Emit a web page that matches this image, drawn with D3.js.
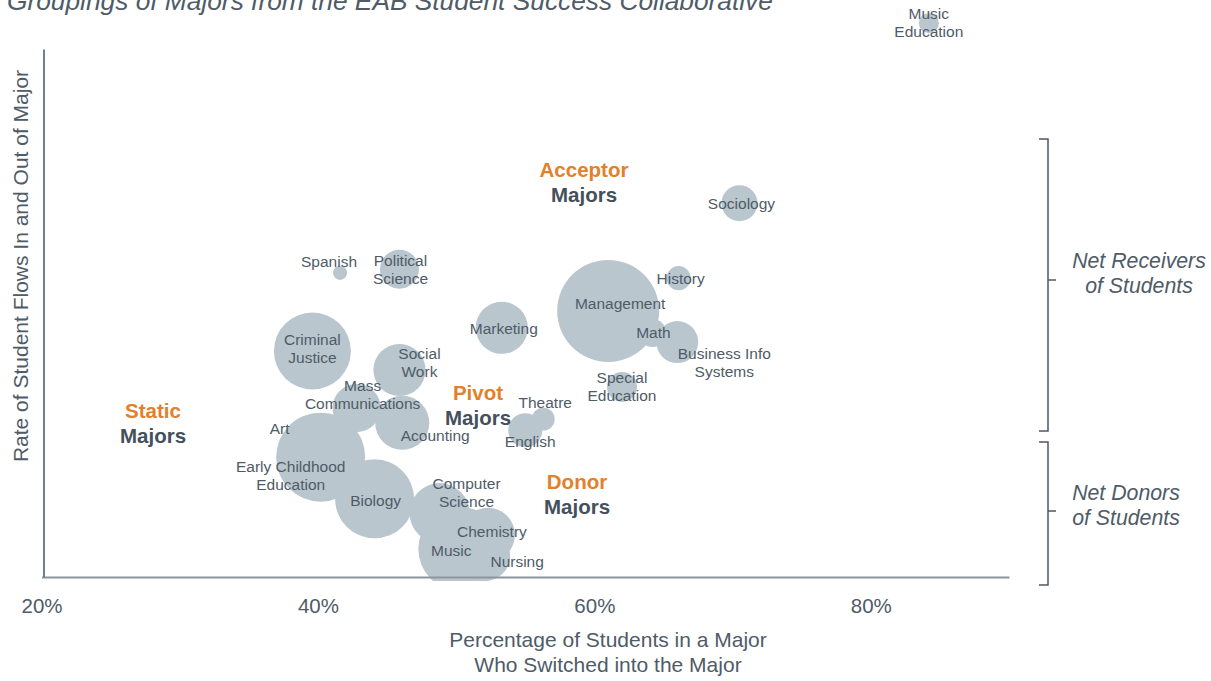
<!DOCTYPE html>
<html>
<head>
<meta charset="utf-8">
<script src="https://cdn.jsdelivr.net/npm/d3@7"></script>
<style>
  html, body { margin: 0; padding: 0; background: #ffffff; }
  svg { display: block; font-family: "Liberation Sans", Arial, sans-serif; }
</style>
</head>
<body>
<svg id="chart" width="1211" height="681"></svg>
<script>
// Majors, share of students who switched in (%), flow rate index, enrollment
const majors = [
  "Art", "Early Childhood Education", "Criminal Justice", "Biology", "Music",
  "Computer Science", "Chemistry", "Nursing", "Mass Communications", "Social Work",
  "Acounting", "Political Science", "Spanish", "Marketing", "Management",
  "Math", "Business Info Systems", "History", "Sociology", "Special Education",
  "Theatre", "English", "Music Education"
];
const switchedIn = [
  39.9, 40.2, 39.6, 44.1, 50.3,
  48.8, 52.3, 52.1, 42.8, 45.9,
  46.1, 45.9, 41.6, 53.3, 61.0,
  64.2, 66.0, 66.1, 70.5, 62.0,
  56.3, 55.0, 84.2
];
const flowRate = [
  24.1, 22.7, 42.8, 14.8, 5.3,
  12.1, 8.0, 4.0, 32.0, 39.2,
  29.2, 58.3, 57.6, 47.2, 50.4,
  46.2, 44.5, 56.6, 70.8, 36.0,
  29.9, 27.8, 104.9
];
const enrollment = [
  1300, 1980, 1480, 1560, 1760,
  900, 730, 625, 580, 680,
  730, 380, 50, 680, 2600,
  195, 440, 145, 325, 225,
  130, 290, 100
];

const xTicks = [20, 40, 60, 80];
const groupNames = ["Static", "Acceptor", "Pivot", "Donor"];
const groupWord = "Majors";
const bracketNames = [["Net Receivers", "of Students"], ["Net Donors", "of Students"]];

// Label placement relative to each bubble centre (px)
const labelLayout = {
  "Art": { dx: -37, dy: -16, lines: ["Art"] },
  "Early Childhood Education": { dx: -30, dy: 15, lines: ["Early Childhood", "Education"] },
  "Criminal Justice": { dx: 0, dy: -6, lines: ["Criminal", "Justice"] },
  "Biology": { dx: 1, dy: 7, lines: ["Biology"] },
  "Music": { dx: -9, dy: 7, lines: ["Music"] },
  "Computer Science": { dx: 27, dy: -24, lines: ["Computer", "Science"] },
  "Chemistry": { dx: 4, dy: 2, lines: ["Chemistry"] },
  "Nursing": { dx: 32, dy: 11, lines: ["Nursing"] },
  "Mass Communications": { dx: 6, dy: -17, lines: ["Mass", "Communications"] },
  "Social Work": { dx: 20, dy: -11, lines: ["Social", "Work"] },
  "Acounting": { dx: 33, dy: 18, lines: ["Acounting"] },
  "Political Science": { dx: 1, dy: -3, lines: ["Political", "Science"] },
  "Spanish": { dx: -11, dy: -6, lines: ["Spanish"] },
  "Marketing": { dx: 2, dy: 6, lines: ["Marketing"] },
  "Management": { dx: 12, dy: -2, lines: ["Management"] },
  "Math": { dx: 1, dy: 5, lines: ["Math"] },
  "Business Info Systems": { dx: 47, dy: 17, lines: ["Business Info", "Systems"] },
  "History": { dx: 2, dy: 6, lines: ["History"] },
  "Sociology": { dx: 2, dy: 6, lines: ["Sociology"] },
  "Special Education": { dx: 0, dy: -4, lines: ["Special", "Education"] },
  "Theatre": { dx: 2, dy: -11, lines: ["Theatre"] },
  "English": { dx: 5, dy: 17, lines: ["English"] },
  "Music Education": { dx: 0, dy: -4, lines: ["Music", "Education"] }
};

const textColor = "#4f5b67";
const darkText = "#44505c";
const orange = "#e3802a";
const bubbleFill = "#b9c6ce";

const svg = d3.select("#chart");

const x = d3.scaleLinear().domain([20, 90]).range([41.5, 1009]);
const y = d3.scaleLinear().domain([0, 100]).range([577, 49]);
const r = d3.scaleSqrt().domain([0, 2600]).range([0, 51]);

const rows = majors.map((m, i) => ({
  name: m, sx: switchedIn[i], fy: flowRate[i], n: enrollment[i]
}));

// Title (partly above the page edge)
svg.append("text")
  .attr("x", 7).attr("y", 10)
  .attr("font-size", 26.3).attr("font-style", "italic")
  .attr("fill", textColor)
  .text("Groupings of Majors from the EAB Student Success Collaborative");

// Bubbles, clipped just below the x axis
svg.append("clipPath").attr("id", "plotClip")
  .append("rect").attr("x", 0).attr("y", 0).attr("width", 1211).attr("height", 581);

svg.append("g").attr("clip-path", "url(#plotClip)")
  .selectAll("circle")
  .data(rows)
  .join("circle")
  .attr("cx", d => x(d.sx))
  .attr("cy", d => y(d.fy))
  .attr("r", d => r(d.n))
  .attr("fill", bubbleFill);

// Axes
const xAxis = d3.axisBottom(x).tickValues(xTicks).tickSize(0).tickPadding(21)
  .tickFormat(d => d + "%");
const gx = svg.append("g").attr("transform", `translate(0,${y(0)})`).call(xAxis);
gx.select(".domain").attr("stroke", "#8d959c").attr("stroke-width", 2);
gx.selectAll("text").attr("font-size", 20.5).attr("fill", textColor)
  .attr("font-family", "Liberation Sans, Arial, sans-serif");

const yAxis = d3.axisLeft(y).tickValues([]).tickSize(0);
const gy = svg.append("g").attr("transform", `translate(${x(20) + 2},0)`).call(yAxis);
gy.select(".domain").attr("stroke", "#6d8191").attr("stroke-width", 2);

// Axis titles
svg.append("text")
  .attr("text-anchor", "middle").attr("font-size", 21).attr("fill", textColor)
  .selectAll("tspan")
  .data(["Percentage of Students in a Major", "Who Switched into the Major"])
  .join("tspan")
  .attr("x", 608).attr("y", (d, i) => 647 + i * 25)
  .text(d => d);

svg.append("text")
  .attr("transform", "translate(28,266) rotate(-90)")
  .attr("text-anchor", "middle").attr("font-size", 21).attr("fill", textColor)
  .text("Rate of Student Flows In and Out of Major");

// Bubble labels
const lab = svg.append("g").attr("font-size", 15.5).attr("fill", textColor)
  .attr("text-anchor", "middle");
rows.forEach(d => {
  const L = labelLayout[d.name];
  const t = lab.append("text");
  L.lines.forEach((line, i) => {
    t.append("tspan")
      .attr("x", x(d.sx) + L.dx)
      .attr("y", y(d.fy) + L.dy + i * 18)
      .text(line);
  });
});

// Group call-outs
const groupPos = { Static: [153, 418], Acceptor: [584, 177], Pivot: [478, 400], Donor: [577, 489] };
groupNames.forEach(g => {
  const [gxp, gyp] = groupPos[g];
  const t = svg.append("text").attr("text-anchor", "middle")
    .attr("font-size", 20.5).attr("font-weight", "bold");
  t.append("tspan").attr("x", gxp).attr("y", gyp).attr("fill", orange).text(g);
  t.append("tspan").attr("x", gxp).attr("y", gyp + 25).attr("fill", darkText).text(groupWord);
});

// Right-hand brackets: [top, bottom, middle tick, caption centre x, first baseline]
const brackets = [[139, 431, 280, 1139, 268], [442, 585, 511, 1126, 500]];
const bx = 1048;
brackets.forEach(([top, bot, mid, cx, base], i) => {
  svg.append("path")
    .attr("d", `M${bx - 9},${top}H${bx}V${bot}H${bx - 9}M${bx},${mid}H${bx + 8}`)
    .attr("fill", "none").attr("stroke", "#4d5763").attr("stroke-width", 1.5);
  const t = svg.append("text").attr("text-anchor", "middle")
    .attr("font-size", 21.3).attr("font-style", "italic").attr("fill", textColor);
  bracketNames[i].forEach((line, j) => {
    t.append("tspan").attr("x", cx).attr("y", base + j * 25).text(line);
  });
});
</script>
</body>
</html>
